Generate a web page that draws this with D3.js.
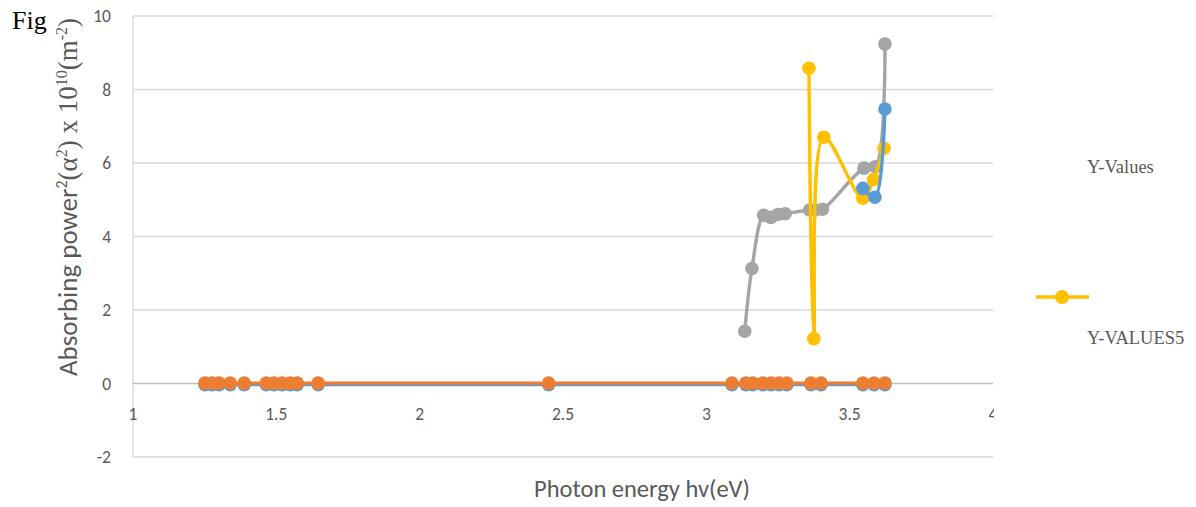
<!DOCTYPE html>
<html>
<head>
<meta charset="utf-8">
<script src="https://cdn.jsdelivr.net/npm/d3@7"></script>
<style>
	body { margin: 0; background: #fff; }
	svg { display: block; }
</style>
</head>
<body>
<div id="chart"></div>
<script>
const w = 1196;
const h = 507;

// series
const zeroX = [1.251, 1.276, 1.30, 1.339, 1.388, 1.465, 1.492, 1.52, 1.548, 1.573, 1.646, 2.45,
	3.089, 3.138, 3.162, 3.197, 3.225, 3.253, 3.281, 3.365, 3.40, 3.546, 3.585, 3.623];
const zeroY = zeroX.map(() => 0);

const blueX = [3.546, 3.588, 3.623];
const blueY = [5.31, 5.07, 7.47];

const grayX = [3.134, 3.159, 3.20, 3.225, 3.25, 3.275, 3.36, 3.38, 3.405, 3.55, 3.59, 3.623];
const grayY = [1.42, 3.13, 4.58, 4.52, 4.6, 4.62, 4.72, 4.72, 4.74, 5.86, 5.9, 9.24];

const yellowX = [3.358, 3.375, 3.41, 3.546, 3.583, 3.62];
const yellowY = [8.58, 1.22, 6.7, 5.04, 5.55, 6.4];

const xTicks = [1, 1.5, 2, 2.5, 3, 3.5, 4];
const yTicks = [-2, 0, 2, 4, 6, 8, 10];

const legendLabels = ['Y-Values', 'Y-VALUES5'];

const svg = d3.select('#chart')
	.append('svg')
	.attr('width', w)
	.attr('height', h)
	.style('background-color', '#fff');

const x = d3.scaleLinear().domain([1, 4]).range([133, 993]);
const y = d3.scaleLinear().domain([-2, 10]).range([457, 16]);

const sans = 'Carlito, Lato, "Open Sans", sans-serif';
const serif = '"Liberation Serif", "Times New Roman", serif';

// gridlines
svg.append('g')
	.selectAll('line')
	.data(yTicks.filter(d => d !== 0))
	.enter()
	.append('line')
	.attr('x1', x(1))
	.attr('x2', x(4))
	.attr('y1', d => y(d))
	.attr('y2', d => y(d))
	.attr('stroke', '#d9d9d9')
	.attr('stroke-width', 1.3);

// vertical axis line
svg.append('line')
	.attr('x1', x(1)).attr('x2', x(1))
	.attr('y1', y(10)).attr('y2', y(-2))
	.attr('stroke', '#d9d9d9')
	.attr('stroke-width', 1.3);

// horizontal axis at zero
svg.append('line')
	.attr('x1', x(1)).attr('x2', x(4))
	.attr('y1', y(0)).attr('y2', y(0))
	.attr('stroke', '#bfbfbf')
	.attr('stroke-width', 1.3);

// y tick labels
svg.append('g')
	.selectAll('text')
	.data(yTicks)
	.enter()
	.append('text')
	.attr('x', 111)
	.attr('y', d => y(d) + 6)
	.attr('text-anchor', 'end')
	.style('font-family', sans)
	.style('font-size', '17.5px')
	.style('fill', '#595959')
	.text(d => d);

// x tick labels, clipped at the plot's right edge like the picture
svg.append('clipPath').attr('id', 'clipx')
	.append('rect').attr('x', 0).attr('y', 0).attr('width', 994).attr('height', h);

svg.append('g')
	.attr('clip-path', 'url(#clipx)')
	.selectAll('text')
	.data(xTicks)
	.enter()
	.append('text')
	.attr('x', d => x(d))
	.attr('y', y(0) + 36)
	.attr('text-anchor', 'middle')
	.style('font-family', sans)
	.style('font-size', '17.5px')
	.style('fill', '#595959')
	.text(d => d);

function series(xs, ys, color, curve) {
	const pts = xs.map((d, i) => [d, ys[i]]);
	const line = d3.line()
		.x(d => x(d[0]))
		.y(d => y(d[1]))
		.curve(curve);
	const g = svg.append('g');
	g.append('path')
		.datum(pts)
		.attr('d', line)
		.attr('fill', 'none')
		.attr('stroke', color)
		.attr('stroke-width', 3.4)
		.attr('stroke-linejoin', 'round');
	g.selectAll('circle')
		.data(pts)
		.enter()
		.append('circle')
		.attr('cx', d => x(d[0]))
		.attr('cy', d => y(d[1]))
		.attr('r', 6.8)
		.attr('fill', color);
}

series(zeroX, zeroY.map(d => d - 0.03), '#5B9BD5', d3.curveLinear);
series(zeroX, zeroY.map(d => d + 0.01), '#ED7D31', d3.curveLinear);
series(grayX, grayY, '#A5A5A5', d3.curveCatmullRom.alpha(0.5));
series(yellowX, yellowY, '#FFC000', d3.curveCatmullRom.alpha(0.5));
series(blueX, blueY, '#5B9BD5', d3.curveCatmullRom.alpha(0.5));

// axis titles
svg.append('text')
	.attr('x', 642)
	.attr('y', 497)
	.attr('text-anchor', 'middle')
	.style('font-family', sans)
	.style('font-size', '24.5px')
	.style('fill', '#595959')
	.text('Photon energy hv(eV)');

const yt = svg.append('text')
	.attr('transform', 'translate(77,197) rotate(-90)')
	.attr('text-anchor', 'middle')
	.style('font-size', '27px')
	.style('fill', '#595959');
yt.append('tspan').style('font-family', sans).text('Absorbing power');
yt.append('tspan').style('font-family', sans).attr('dy', -10).style('font-size', '16px').text('2');
yt.append('tspan').style('font-family', serif).attr('dy', 10).text('(α');
yt.append('tspan').style('font-family', serif).attr('dy', -10).style('font-size', '16px').text('2');
yt.append('tspan').style('font-family', serif).attr('dy', 10).text(') x 10');
yt.append('tspan').style('font-family', serif).attr('dy', -10).style('font-size', '16px').text('10');
yt.append('tspan').style('font-family', serif).attr('dy', 10).text('(m');
yt.append('tspan').style('font-family', serif).attr('dy', -10).style('font-size', '16px').text('-2');
yt.append('tspan').style('font-family', serif).attr('dy', 10).text(')');

// Fig label
svg.append('text')
	.attr('x', 12)
	.attr('y', 29)
	.style('font-family', serif)
	.style('font-size', '26px')
	.style('fill', '#000')
	.text('Fig');

// legend
const lg = svg.append('g').attr('id', 'legend');
lg.append('text')
	.attr('x', 1087)
	.attr('y', 173)
	.style('font-family', serif)
	.style('font-size', '18.5px')
	.style('fill', '#595959')
	.text(legendLabels[0]);
lg.append('line')
	.attr('x1', 1036).attr('x2', 1089)
	.attr('y1', 297).attr('y2', 297)
	.attr('stroke', '#FFC000')
	.attr('stroke-width', 3.4);
lg.append('circle')
	.attr('cx', 1062).attr('cy', 297).attr('r', 7)
	.attr('fill', '#FFC000');
lg.append('text')
	.attr('x', 1087)
	.attr('y', 344)
	.style('font-family', serif)
	.style('font-size', '18.5px')
	.style('fill', '#595959')
	.text(legendLabels[1]);
</script>
</body>
</html>
